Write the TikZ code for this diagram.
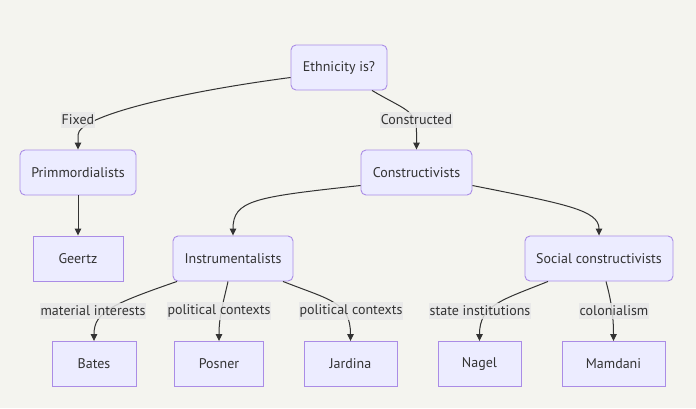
\documentclass[tikz,border=0pt]{standalone}
\usepackage{fontspec}
\setmainfont{PT Sans}
\usetikzlibrary{arrows.meta}
\begin{document}
\begin{tikzpicture}[x=1pt,y=-1pt,
    box/.style={draw=boxborder, fill=boxfill, line width=0.9pt,
      minimum height=45pt, inner sep=0pt, text=textgray,
      font=\fontsize{14}{16}\selectfont},
    group/.style={box, rounded corners=5pt},
    leaf/.style={box},
    edge/.style={draw=linegray, line width=1pt,
      -{Triangle[length=7pt,width=6.5pt]}},
    lbl/.style={fill=lblgray, fill opacity=0.85, text opacity=1,
      text=textgray, inner xsep=1pt, inner ysep=3pt,
      font=\fontsize{14}{16}\selectfont}
  ]
  % Color definitions
  \definecolor{bggray}{RGB}{244, 244, 239}
  \definecolor{boxfill}{RGB}{236, 236, 255}
  \definecolor{boxborder}{RGB}{170, 140, 230}
  \definecolor{linegray}{RGB}{51, 51, 51}
  \definecolor{lblgray}{RGB}{232, 232, 232}
  \definecolor{textgray}{RGB}{51, 51, 51}

  % Background
  \fill[bggray] (0,0) rectangle (696,408);
  \useasboundingbox (0,0) rectangle (696,408);

  % Group nodes
  \node[group, minimum width=96pt] (eth) at (339,67.5) {Ethnicity is?};
  \node[group, minimum width=116pt] (prim) at (78,172.5) {Primmordialists};
  \node[group, minimum width=111pt] (constr) at (416.5,172.5) {Constructivists};
  \node[group, minimum width=120pt] (instr) at (233,258.5) {Instrumentalists};
  \node[group, minimum width=148pt] (social) at (599,258.5) {Social constructivists};

  % Leaf nodes
  \node[leaf, minimum width=90pt] (geertz) at (78,258.5) {Geertz};
  \foreach \name/\x/\w/\txt in {
      bates/94/84/Bates,
      posner/219/89/Posner,
      jardina/350.5/93/Jardina,
      nagel/479.5/83/Nagel,
      mamdani/613.5/103/Mamdani
  } {
      \node[leaf, minimum width=\w pt] (\name) at (\x,364) {\txt};
  }

  % Edges
  \draw[edge] ([yshift=-10pt]eth.west) .. controls (180,92) and (78,116) .. (78,135) -- (prim.north);
  \draw[edge] ([xshift=33pt]eth.south) .. controls (405,110) and (416.5,110) .. (416.5,132) -- (constr.north);
  \draw[edge] (prim) -- (geertz);
  \draw[edge] ([yshift=-13pt]constr.west) .. controls (255,197) and (233,200) .. (instr.north);
  \draw[edge] ([yshift=-13pt]constr.east) .. controls (565,204) and (599,210) .. (social.north);
  \draw[edge] ([xshift=-56pt]instr.south) .. controls (112,304) and (94,312) .. (bates.north);
  \draw[edge] ([xshift=-5pt]instr.south) .. controls (224,300) and (219,315) .. (posner.north);
  \draw[edge] ([xshift=50pt]instr.south) .. controls (330,300) and (350.5,302) .. (jardina.north);
  \draw[edge] ([xshift=-51pt]social.south) .. controls (502,300) and (479.5,305) .. (nagel.north);
  \draw[edge] ([xshift=7pt]social.south) .. controls (611,300) and (613.5,315) .. (mamdani.north);

  % Edge labels
  \node[lbl] (fixed) at (78,120) {Fixed};
  \node[lbl] (constructed) at (416.5,120) {Constructed};
  \node[lbl] (material) at (93,311) {material interests};
  \node[lbl] (politicalA) at (219,311) {political contexts};
  \node[lbl] (politicalB) at (351,311) {political contexts};
  \node[lbl] (state) at (480,311) {state institutions};
  \node[lbl] (colonial) at (614,311) {colonialism};
\end{tikzpicture}
\end{document}
